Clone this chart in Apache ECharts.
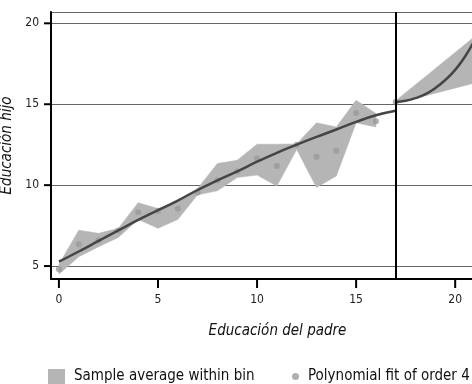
<!DOCTYPE html>
<html>
<head>
<meta charset="utf-8">
<script src="https://cdn.jsdelivr.net/npm/echarts@6/dist/echarts.min.js"></script>
<style>
  html, body { margin: 0; padding: 0; background: #fff; }
  #chart { width: 472px; height: 384px; }
</style>
</head>
<body>
<div id="chart"></div>
<script>
// bins below the cutoff (father's education < 17)
var binX = [0, 1, 2, 3, 4, 5, 6, 7, 8, 9, 10, 11, 12, 13, 14, 15, 16]
var binMean = [4.8, 6.34, 6.6, 7.2, 8.33, 8.4, 8.54, 9.55, 10.3, 10.85, 11.65, 11.19, 12.5, 11.75, 12.12, 14.46, 13.95]
var binLo = [4.5, 5.57, 6.19, 6.77, 7.88, 7.33, 7.88, 9.4, 9.65, 10.47, 10.62, 9.94, 12.2, 9.86, 10.56, 13.85, 13.6]
var binHi = [5.1, 7.22, 7.02, 7.33, 8.91, 8.56, 9.0, 9.8, 11.34, 11.54, 12.53, 12.53, 12.55, 13.85, 13.6, 15.25, 14.43]

// bins at and above the cutoff
var binXR = [17, 21]
var binMeanR = [15.14, 17.9]
var binLoR = [15.05, 16.32]
var binHiR = [15.22, 19.2]

// polynomial fit, each side
var fitX = [0, 1, 2, 3, 4, 5, 6, 7, 8, 9, 10, 11, 12, 13, 14, 15, 16, 17]
var fitY = [5.27, 5.9, 6.55, 7.2, 7.85, 8.45, 9.05, 9.7, 10.3, 10.85, 11.45, 12.0, 12.5, 12.98, 13.44, 13.91, 14.32, 14.6]
var fitXR = [17, 17.5, 18, 18.5, 19, 19.5, 20, 20.5, 21]
var fitYR = [15.14, 15.22, 15.38, 15.62, 16.0, 16.5, 17.12, 17.95, 19.0]

var cutoff = 17
var xTicks = [0, 5, 10, 15, 20]
var yTicks = [5, 10, 15, 20]
var xMin = -0.4, xMax = 21
var yMin = 4.2, yMax = 20.7

var bandName = 'Sample average within bin'
var dotName = 'Polynomial fit of order 4'
var font = '"Liberation Sans Narrow", "DejaVu Sans Condensed", sans-serif'

function pairs(xs, ys) {
  return xs.map(function (x, i) { return [x, ys[i]] })
}

// the band is one polygon: lower edge left to right, upper edge back
function bandSeries(xs, lo, hi) {
  return {
    name: bandName,
    type: 'custom',
    color: '#b5b5b5',
    silent: true,
    z: 1,
    data: xs.map(function (x, i) { return [x, lo[i], hi[i]] }),
    encode: { x: 0, y: [1, 2] },
    renderItem: function (params, api) {
      if (params.dataIndex !== 0) return null
      var pts = []
      for (var i = 0; i < xs.length; i++) pts.push(api.coord([xs[i], lo[i]]))
      for (var j = xs.length - 1; j >= 0; j--) pts.push(api.coord([xs[j], hi[j]]))
      return {
        type: 'polygon',
        shape: { points: pts },
        style: { fill: '#b5b5b5', stroke: '#b5b5b5', lineWidth: 0.5 }
      }
    }
  }
}

// axis ticks drawn through the axis scales (axisTick goes missing with onZero off)
var tickSeries = {
  name: 'ticks',
  type: 'custom',
  silent: true,
  clip: false,
  z: 5,
  data: [[xMin, yMin]],
  encode: { x: 0, y: 1 },
  renderItem: function (params, api) {
    var kids = []
    xTicks.forEach(function (v) {
      var p = api.coord([v, yMin])
      kids.push({ type: 'line', shape: { x1: p[0], y1: p[1] + 1, x2: p[0], y2: p[1] + 9 }, style: { stroke: '#000', lineWidth: 2 } })
    })
    yTicks.forEach(function (v) {
      var p = api.coord([xMin, v])
      kids.push({ type: 'line', shape: { x1: p[0] - 7, y1: p[1], x2: p[0], y2: p[1] }, style: { stroke: '#000', lineWidth: 2 } })
    })
    return { type: 'group', children: kids }
  }
}

var chart = echarts.init(document.getElementById('chart'))

var series = []
series.push(bandSeries(binX, binLo, binHi))
series.push(bandSeries(binXR, binLoR, binHiR))
series.push({
  name: dotName,
  type: 'scatter',
  data: pairs(binX, binMean).concat(pairs(binXR, binMeanR)),
  symbolSize: 6,
  itemStyle: { color: '#9a9a9a' },
  z: 2
})
series.push({
  name: 'fit-left',
  type: 'line',
  data: pairs(fitX, fitY),
  smooth: true,
  symbol: 'none',
  lineStyle: { color: '#454545', width: 2.5 },
  z: 3,
  markLine: {
    silent: true,
    symbol: ['none', 'none'],
    label: { show: false },
    lineStyle: { color: '#000', width: 2, type: 'solid' },
    data: [{ xAxis: cutoff }]
  }
})
series.push({
  name: 'fit-right',
  type: 'line',
  data: pairs(fitXR, fitYR),
  smooth: true,
  symbol: 'none',
  lineStyle: { color: '#454545', width: 2.5 },
  z: 3
})
series.push(tickSeries)

var option = {
  animation: false,
  backgroundColor: '#fff',
  textStyle: { fontFamily: font },
  grid: {
    left: 51,
    top: 12,
    right: -3,
    bottom: 105,
    outerBoundsMode: 'none'
  },
  legend: [
    {
      left: 43,
      top: 364,
      itemWidth: 17,
      itemHeight: 15,
      selectedMode: false,
      data: [{ name: bandName, icon: 'rect', itemStyle: { color: '#b5b5b5' } }],
      textStyle: { fontFamily: font, fontSize: 15, color: '#111', padding: [0, 0, 0, 4] }
    },
    {
      left: 287,
      top: 364,
      itemWidth: 7,
      itemHeight: 7,
      selectedMode: false,
      data: [{ name: dotName, icon: 'circle', itemStyle: { color: '#9a9a9a' } }],
      textStyle: { fontFamily: font, fontSize: 15, color: '#111', padding: [0, 0, 0, 4] }
    }
  ],
  xAxis: {
    type: 'value',
    min: xMin,
    max: xMax,
    splitNumber: 4,
    name: 'Educación del padre',
    nameLocation: 'middle',
    nameGap: 45,
    nameTextStyle: { fontFamily: font, fontSize: 15, fontStyle: 'italic', color: '#111', padding: [0, 0, 0, 29] },
    axisLine: { show: true, onZero: false, lineStyle: { color: '#000', width: 2 } },
    axisTick: { show: false },
    axisLabel: {
      margin: 15,
      fontFamily: font,
      fontSize: 12,
      color: '#222',
      showMinLabel: false,
      showMaxLabel: false
    },
    splitLine: { show: false }
  },
  yAxis: {
    type: 'value',
    min: yMin,
    max: yMax,
    splitNumber: 3,
    name: 'Educación hijo',
    nameLocation: 'middle',
    nameGap: 30,
    nameTextStyle: { fontFamily: font, fontSize: 15, fontStyle: 'italic', color: '#111' },
    axisLine: { show: true, onZero: false, lineStyle: { color: '#000', width: 2 } },
    axisTick: { show: false },
    axisLabel: {
      margin: 12,
      fontFamily: font,
      fontSize: 12,
      color: '#222',
      showMinLabel: false,
      showMaxLabel: false
    },
    splitLine: { show: true, lineStyle: { color: '#666', width: 1.2 } }
  },
  series: series
}

chart.setOption(option)
</script>
</body>
</html>
